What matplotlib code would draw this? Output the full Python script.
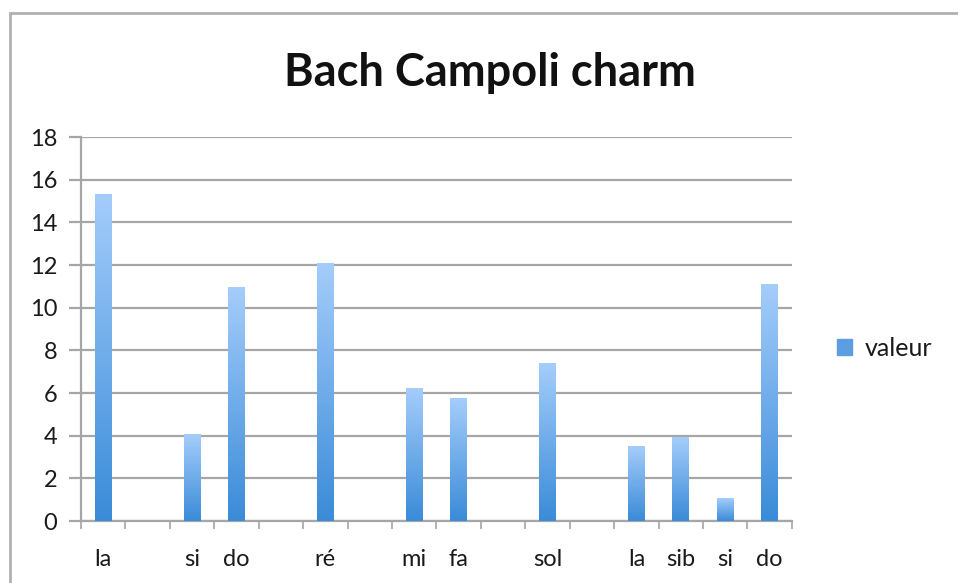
import numpy as np
import matplotlib
matplotlib.use("Agg")
import matplotlib.pyplot as plt
from matplotlib.colors import LinearSegmentedColormap
from matplotlib.patches import Rectangle

# ---- notes of the phrase (blank slots are rests / gaps)
notes = ["la", "", "si", "do", "", "ré", "", "mi", "fa", "", "sol", "", "la", "sib", "si", "do"]
valeur = [15.3, 0, 4.05, 10.95, 0, 12.05, 0, 6.2, 5.75, 0, 7.4, 0, 3.5, 3.9, 1.05, 11.1]
y_ticks = [0, 2, 4, 6, 8, 10, 12, 14, 16, 18]

plt.rcParams["font.family"] = ["Lato", "DejaVu Sans"]

GRID = "#a6a6a6"
fig = plt.figure(figsize=(9.58, 5.83), dpi=100)
ax = fig.add_axes([0.0846, 0.1063, 0.742, 0.6587])

# outer frame of the chart area
fig.patches.append(Rectangle((10 / 958, -0.05), 1.2, 1 - 13 / 583 + 0.05,
                             transform=fig.transFigure, fill=False,
                             edgecolor="#b0b0b0", linewidth=2))

x = np.arange(len(notes))
width = 0.38
bars = ax.bar(x, valeur, width, color="none", zorder=3)

# vertical gradient fill for each bar
cmap = LinearSegmentedColormap.from_list("bar", ["#3a8bd8", "#a4cdfb"])
grad = np.linspace(0, 1, 256).reshape(-1, 1)
for b in bars:
    h = b.get_height()
    if h <= 0:
        continue
    x0 = b.get_x()
    ax.imshow(grad, cmap=cmap, origin="lower", aspect="auto",
              extent=(x0, x0 + b.get_width(), 0, h), zorder=3)

ax.set_xlim(-0.5, len(notes) - 0.5)
ax.set_ylim(0, 18)

ax.set_yticks(y_ticks)
ax.yaxis.grid(True, color=GRID, linewidth=1.6, zorder=1)
ax.set_axisbelow(True)

ax.set_xticks(x)
ax.set_xticklabels(notes)
ax.set_xticks(np.arange(-0.5, len(notes)), minor=True)
ax.tick_params(axis="x", which="major", length=0, pad=20, labelsize=17,
               labelcolor="#1a1a1a")
ax.tick_params(axis="x", which="minor", length=6, width=1.2, color=GRID)
ax.tick_params(axis="y", length=9, width=1.6, color=GRID, pad=8, labelsize=17,
               labelcolor="#1a1a1a")

for side in ["top", "right"]:
    ax.spines[side].set_visible(False)
for side in ["left", "bottom"]:
    ax.spines[side].set_color(GRID)
    ax.spines[side].set_linewidth(1.6)

fig.text(0.511, 0.875, "Bach Campoli charm", ha="center", va="center",
         fontsize=32.5, fontweight="bold", color="#111111")

handle = Rectangle((0, 0), 1, 1, color="#5d9de2")
fig.legend([handle], ["valeur"], loc="center left", bbox_to_anchor=(0.85, 0.403),
           frameon=False, fontsize=18, handlelength=0.6, handleheight=0.6,
           handletextpad=0.5, labelcolor="#1a1a1a")

fig.savefig("out.png", dpi=100)
